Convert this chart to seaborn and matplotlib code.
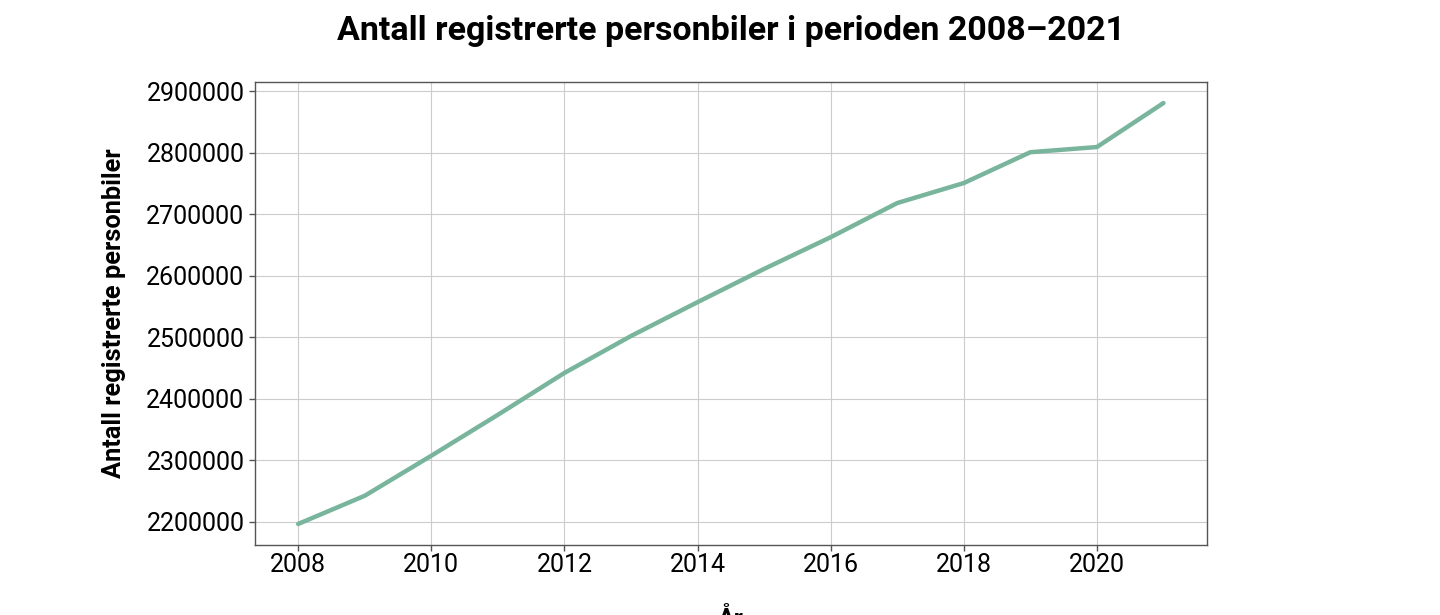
import seaborn as sns
import matplotlib.pyplot as plt
import pandas as pd

# Data #
years = [2008, 2009, 2010, 2011, 2012, 2013, 2014, 2015, 2016, 2017, 2018, 2019, 2020, 2021]
cars = [2196700, 2242500, 2307500, 2374000, 2442000, 2502000, 2557000, 2611000, 2662500,
        2718000, 2750500, 2800600, 2809000, 2880500]

df = pd.DataFrame({'År': years, 'Antall registrerte personbiler': cars})

sns.set_style('whitegrid', {'grid.color': '#cccccc', 'axes.edgecolor': '#555555',
                            'text.color': 'black', 'axes.labelcolor': 'black'})
plt.rcParams['font.family'] = ['Roboto', 'DejaVu Sans']

fig = plt.figure(figsize=(14.4, 6.15), dpi=100)
ax = fig.add_axes([0.177, 0.1138, 0.661, 0.7529])
sns.lineplot(data=df, x='År', y='Antall registrerte personbiler', ax=ax,
             color='#78b59c', linewidth=3.2)

ax.set_xticks([2008, 2010, 2012, 2014, 2016, 2018, 2020])
ax.set_yticks([2200000, 2300000, 2400000, 2500000, 2600000, 2700000, 2800000, 2900000])
ax.ticklabel_format(axis='y', style='plain', useOffset=False)
ax.tick_params(axis='both', labelsize=18, colors='#555555', labelcolor='black',
               length=4, width=1, left=True, bottom=True)
ax.tick_params(axis='x', pad=2)
for s in ax.spines.values():
    s.set_linewidth(1)
    s.set_color('#555555')

ax.set_title('Antall registrerte personbiler i perioden 2008–2021', fontsize=24.5,
             fontweight='bold', pad=30, color='black')
ax.set_xlabel('År', fontsize=18, fontweight='bold', labelpad=22)
ax.set_ylabel('Antall registrerte personbiler', fontsize=18.3, fontweight='bold', labelpad=15)

plt.savefig('out.png', dpi=100)
